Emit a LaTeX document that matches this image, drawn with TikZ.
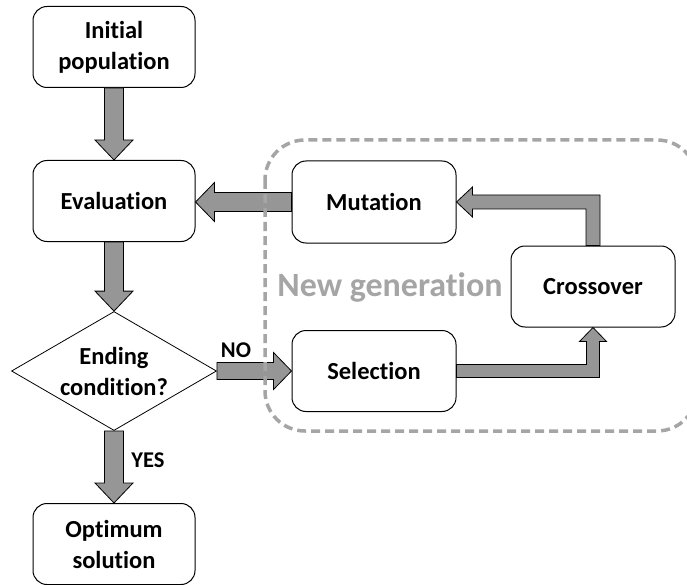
\documentclass[tikz,border=0pt]{standalone}
\usepackage{fontspec}
\setmainfont{Carlito}[Ligatures=NoCommon]
\usetikzlibrary{shapes.geometric,calc}
\definecolor{arrowgray}{RGB}{150,150,150}
\definecolor{dashgray}{RGB}{165,165,165}
\tikzset{
  box/.style={draw, fill=white, rounded corners=14pt, line width=1pt,
    minimum width=162pt, minimum height=81pt, align=center,
    font=\fontsize{24.5}{31}\selectfont\bfseries},
  test/.style={draw, diamond, aspect=1.72, line width=0.8pt,
    minimum width=205pt, minimum height=119pt, inner sep=-3pt, align=center,
    font=\fontsize{24.5}{31}\selectfont\bfseries},
  blk/.style={draw, fill=arrowgray, line width=0.8pt},
  lbl/.style={font=\fontsize{22.5}{27}\selectfont\bfseries},
}
% block arrows
\newcommand{\downblk}[2]{%
  \draw[blk] ($(#1)+(-9.5,0)$) -- ($(#2)+(-9.5,-20)$) -- ($(#2)+(-19,-20)$) -- (#2)
    -- ($(#2)+(19,-20)$) -- ($(#2)+(9.5,-20)$) -- ($(#1)+(9.5,0)$) -- cycle;}
\newcommand{\leftblk}[2]{%
  \draw[blk] ($(#1)+(0,-9.5)$) -- ($(#2)+(19,-9.5)$) -- ($(#2)+(19,-19.5)$) -- (#2)
    -- ($(#2)+(19,19.5)$) -- ($(#2)+(19,9.5)$) -- ($(#1)+(0,9.5)$) -- cycle;}
\newcommand{\rightblk}[2]{%
  \draw[blk] ($(#1)+(0,-8.5)$) -- ($(#2)+(-18,-8.5)$) -- ($(#2)+(-18,-18.5)$) -- (#2)
    -- ($(#2)+(-18,18.5)$) -- ($(#2)+(-18,8.5)$) -- ($(#1)+(0,8.5)$) -- cycle;}

\begin{document}
\begin{tikzpicture}[x=1pt,y=-1pt]
  \useasboundingbox (0,0) rectangle (687,585);
  \clip (0,0) rectangle (687,585);

  \node[box] (init) at (114,47) {Initial\\population};
  \node[box] (eval) at (114,201) {Evaluation};
  \node[test] (cond) at (114,371) {Ending\\condition?};
  \node[box] (opt) at (114,544) {Optimum\\solution};

  \node[box, minimum width=164pt, minimum height=82pt] (mut) at (374,202) {Mutation};
  \node[box, minimum width=164pt] (sel) at (374,371) {Selection};
  \node[box, minimum width=164pt] (cross) at (593,286.5) {Crossover};

  \downblk{init.south}{eval.north}
  \downblk{eval.south}{cond.north}
  \downblk{cond.south}{opt.north}
  \leftblk{mut.west}{eval.east |- mut.west}
  \rightblk{cond.east}{sel.west}

  % bent arrows of the loop
  \coordinate (sc) at (cross.south |- sel.east);
  \draw[blk] ($(sel.east)+(0,-6.5)$) -- ($(sc)+(-6.5,-6.5)$) -- ($(cross.south)+(-6.5,14)$)
    -- ($(cross.south)+(-13.5,14)$) -- (cross.south) -- ($(cross.south)+(13.5,14)$)
    -- ($(cross.south)+(6.5,14)$) -- ($(sc)+(6.5,6.5)$) -- ($(sel.east)+(0,6.5)$) -- cycle;
  \coordinate (mc) at (cross.north |- mut.east);
  \draw[blk] ($(cross.north)+(-7,0)$) -- ($(mc)+(-7,7)$) -- ($(mut.east)+(16,7)$)
    -- ($(mut.east)+(16,15)$) -- (mut.east) -- ($(mut.east)+(16,-15)$)
    -- ($(mut.east)+(16,-7)$) -- ($(mc)+(7,-7)$) -- ($(cross.north)+(7,0)$) -- cycle;

  \node[lbl] (no) at (236,350) {NO};
  \node[lbl] (yes) at (148,460) {YES};

  \draw[dashgray, line width=3.5pt, dash pattern=on 9pt off 5pt, rounded corners=40pt]
    (265,140) rectangle (697,431);
  \node[text=dashgray, font=\fontsize{34}{40}\selectfont\bfseries] (gen) at (390,287) {New generation};
\end{tikzpicture}
\end{document}
